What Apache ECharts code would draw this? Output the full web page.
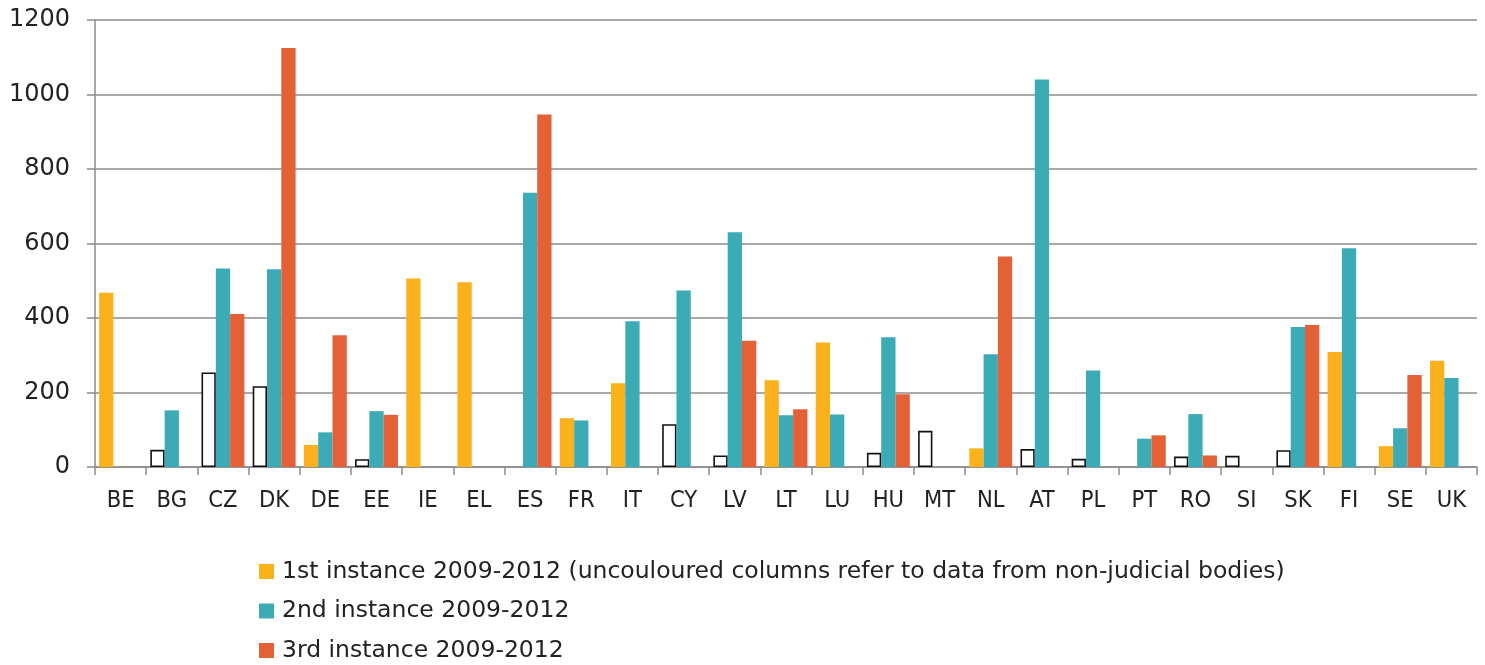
<!DOCTYPE html>
<html>
<head>
<meta charset="utf-8">
<script src="https://cdn.jsdelivr.net/npm/echarts@6/dist/echarts.min.js"></script>
<style>
html,body{margin:0;padding:0;background:#fff;}
#chart{width:1485px;height:665px;}
</style>
</head>
<body>
<div id="chart"></div>
<script>
var categories = ['BE','BG','CZ','DK','DE','EE','IE','EL','ES','FR','IT','CY','LV','LT','LU','HU','MT','NL','AT','PL','PT','RO','SI','SK','FI','SE','UK'];
var firstInstance = [468,46,254,217,59,21,506,496,null,131,225,115,31,233,334,38,97,50,48,22,null,28,30,45,309,56,285];
var nonJudicial = [false,true,true,true,false,true,false,false,false,false,false,true,true,false,false,true,true,false,true,true,false,true,true,true,false,false,false];
var secondInstance = [null,152,533,531,93,150,null,null,736,125,391,474,630,139,141,348,null,303,1040,259,76,142,null,376,587,104,239];
var thirdInstance = [null,null,411,1125,354,140,null,null,946,null,null,null,339,155,null,195,null,565,null,null,85,31,null,381,null,247,null];
var yTicks = {min:0, max:1200, interval:200};
var seriesNames = [
  '1st instance 2009-2012 (uncouloured columns refer to data from non-judicial bodies)',
  '2nd instance 2009-2012',
  '3rd instance 2009-2012'
];

var YELLOW = '#FBB11B', TEAL = '#3DABB6', RED = '#E46036';
var gridColor = '#8c8c8c';

var firstData = firstInstance.map(function(v, i){
  if (v === null) return '-';
  if (nonJudicial[i]) {
    return {value: v, itemStyle: {color: '#ffffff', borderColor: '#111111', borderWidth: 1.6}};
  }
  return v;
});
function clean(arr){ return arr.map(function(v){ return v === null ? '-' : v; }); }

var chart = echarts.init(document.getElementById('chart'), null, {renderer:'canvas'});
chart.setOption({
  animation: false,
  backgroundColor: '#ffffff',
  grid: {left: 95, right: 8, top: 20, bottom: 198, containLabel: false},
  legend: {
    orient: 'vertical',
    left: 259,
    top: 559.5,
    height: 200,
    padding: 0,
    itemWidth: 15,
    itemHeight: 15,
    itemGap: 15.5,
    icon: 'rect',
    textStyle: {fontFamily: 'DejaVu Sans', fontSize: 23.5, color: '#222222', lineHeight: 24, padding: [0,0,0,3]},
    data: seriesNames
  },
  xAxis: {
    type: 'category',
    data: categories,
    boundaryGap: true,
    axisLine: {lineStyle: {color: gridColor, width: 1.5}},
    axisTick: {show: true, alignWithLabel: false, length: 8, lineStyle: {color: gridColor, width: 1.5}},
    axisLabel: {fontFamily: 'DejaVu Sans Condensed', fontSize: 23.5, color: '#222222', margin: 22, interval: 0}
  },
  yAxis: {
    type: 'value',
    min: yTicks.min, max: yTicks.max, interval: yTicks.interval,
    axisLine: {show: true, lineStyle: {color: gridColor, width: 1.5}},
    axisTick: {show: true, length: 8, lineStyle: {color: gridColor, width: 1.5}},
    splitLine: {show: true, lineStyle: {color: gridColor, width: 1.5}},
    axisLabel: {fontFamily: 'DejaVu Sans', fontSize: 24, color: '#222222', margin: 25,
      formatter: function(v){ return String(v); }}
  },
  series: [
    {name: seriesNames[0], type: 'bar', barWidth: 14.3, barGap: '0%', itemStyle: {color: YELLOW}, data: firstData},
    {name: seriesNames[1], type: 'bar', barWidth: 14.3, barGap: '0%', itemStyle: {color: TEAL}, data: clean(secondInstance)},
    {name: seriesNames[2], type: 'bar', barWidth: 14.3, barGap: '0%', itemStyle: {color: RED}, data: clean(thirdInstance)}
  ]
});
</script>
</body>
</html>
